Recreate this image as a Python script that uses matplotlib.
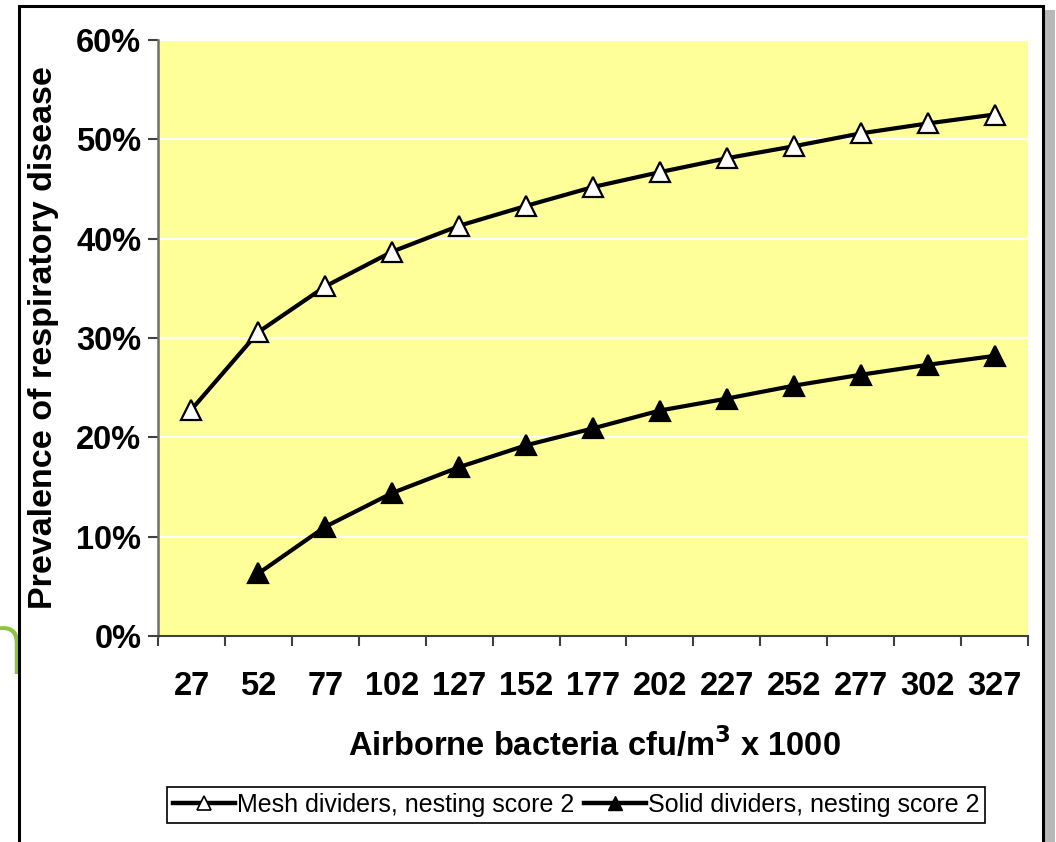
import matplotlib
matplotlib.use("Agg")
import matplotlib.pyplot as plt
from matplotlib.patches import Rectangle
from matplotlib.lines import Line2D

# data
categories = ["27", "52", "77", "102", "127", "152", "177", "202", "227", "252", "277", "302", "327"]
mesh = [22.8, 30.6, 35.2, 38.7, 41.3, 43.3, 45.2, 46.7, 48.1, 49.3, 50.6, 51.6, 52.5]
solid = [None, 6.3, 11.0, 14.4, 17.0, 19.2, 20.9, 22.7, 23.9, 25.2, 26.3, 27.3, 28.2]
y_ticks = [0, 10, 20, 30, 40, 50, 60]

plt.rcParams['font.family'] = ['Liberation Sans', 'DejaVu Sans']

W, H = 1056, 842
fig = plt.figure(figsize=(W / 100, H / 100), dpi=100)
fig.patch.set_facecolor('white')

# green letter from the slide behind the picture, mostly hidden
fig.text(-27 / W, 1 - 674 / H, "n", color='#8cc63e', fontsize=64, family='Open Sans',
         fontweight='light', ha='left', va='baseline', zorder=0.5)

# white chart area with frame and shadow
fig.patches.append(Rectangle((1043 / W, -0.1), 12 / W, 1 - 10 / H + 0.1, transform=fig.transFigure,
                             facecolor='#b8b8b8', edgecolor='none', zorder=0))
fig.patches.append(Rectangle((19 / W, -0.1), (1043 - 19) / W, 1 - 6 / H + 0.1, transform=fig.transFigure,
                             facecolor='white', edgecolor='black', linewidth=2.2, zorder=1))

ax = fig.add_axes([158 / W, 1 - 636 / H, (1028 - 158) / W, (636 - 40) / H], zorder=2)
ax.set_facecolor('#ffff99')

x = list(range(len(categories)))
xs = [i for i, v in zip(x, solid) if v is not None]
ys = [v for v in solid if v is not None]

ax.plot(x, mesh, color='black', linewidth=3, marker='^', markersize=14,
        markerfacecolor='white', markeredgecolor='black', markeredgewidth=1.6, zorder=3)
ax.plot(xs, ys, color='black', linewidth=3, marker='^', markersize=14,
        markerfacecolor='black', markeredgecolor='black', markeredgewidth=1.6, zorder=3)

ax.set_xlim(-0.5, len(categories) - 0.5)
ax.set_ylim(0, 60)
ax.set_yticks(y_ticks)
ax.set_yticklabels([f"{v}%" for v in y_ticks], fontsize=23.5, fontweight='bold')
ax.yaxis.grid(True, color='white', linewidth=1.5)
ax.set_axisbelow(True)

ax.set_xticks(x)
ax.set_xticklabels(categories, fontsize=23.5, fontweight='bold')
ax.set_xticks([i - 0.5 for i in range(len(categories) + 1)], minor=True)
ax.tick_params(axis='x', which='major', length=0, pad=25)
ax.tick_params(axis='x', which='minor', length=7, width=1.5, color='#404040', direction='out')
ax.tick_params(axis='y', length=7, width=1.5, color='#404040', pad=5)

for s in ['top', 'right']:
    ax.spines[s].set_visible(False)
ax.spines['left'].set_color('#707060')
ax.spines['left'].set_linewidth(1.8)
ax.spines['bottom'].set_color('#404040')
ax.spines['bottom'].set_linewidth(1.5)

fig.text(44 / W, 1 - 338 / H, "Prevalence of respiratory disease", rotation=90,
         fontsize=24.5, fontweight='bold', ha='center', va='center')
fig.text(594 / W, 1 - 745 / H, "Airborne bacteria cfu/m$^\\mathbf{3}$ x 1000",
         fontsize=23.5, fontweight='bold', ha='center', va='center')

handles = [
    Line2D([], [], color='black', linewidth=3.2, marker='^', markersize=10,
           markerfacecolor='white', markeredgecolor='black', markeredgewidth=1.2),
    Line2D([], [], color='black', linewidth=3.2, marker='^', markersize=10,
           markerfacecolor='black', markeredgecolor='black'),
]
leg = fig.legend(handles, ["Mesh dividers, nesting score 2", "Solid dividers, nesting score 2"],
                 loc='center', bbox_to_anchor=(576 / W, 1 - 805 / H), ncol=2,
                 fancybox=False, framealpha=1, edgecolor='black', handlelength=2.5,
                 handletextpad=0.05, columnspacing=0.4, borderpad=0.25,
                 prop={'family': ['Liberation Sans Narrow', 'Liberation Sans'], 'size': 18})
leg.get_frame().set_linewidth(1.2)
leg.set_zorder(5)

fig.savefig("out.png", dpi=100)
